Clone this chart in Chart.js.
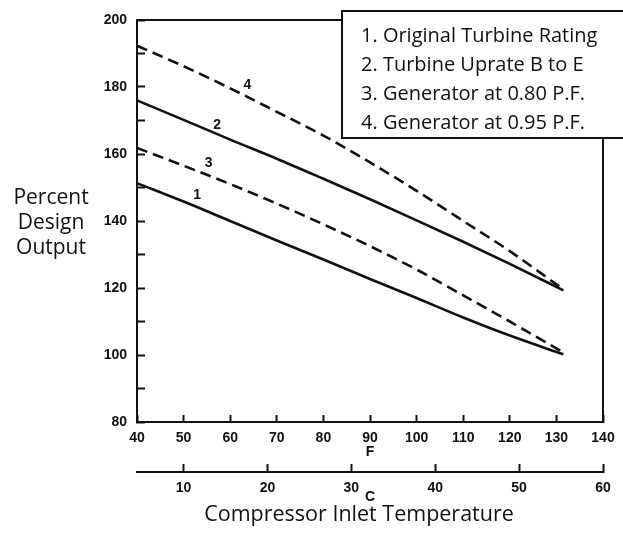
<!DOCTYPE html>
<html><head><meta charset="utf-8">
<script src="https://cdn.jsdelivr.net/npm/chart.js@4"></script>
<style>html,body{margin:0;padding:0;background:#fff}#wrap{width:623px;height:533px}</style>
</head><body><div id="wrap"><canvas id="c" width="623" height="533"></canvas></div>
<script>
// ---- data ----
const fahrenheit = [40, 50, 60, 70, 80, 90, 100, 110, 120, 131.5];
const seriesNames = ['1. Original Turbine Rating', '2. Turbine Uprate B to E', '3. Generator at 0.80 P.F.', '4. Generator at 0.95 P.F.'];
const originalRating = [151.3, 145.8, 140.0, 134.2, 128.5, 122.7, 117.0, 111.2, 105.8, 100.2];
const uprateBtoE     = [176.0, 170.2, 164.3, 158.6, 152.6, 146.5, 140.2, 133.8, 127.2, 119.3];
const gen080PF       = [161.8, 156.5, 151.0, 145.2, 139.0, 132.5, 125.5, 117.8, 110.0, 100.8];
const gen095PF       = [192.3, 186.2, 179.6, 172.6, 165.5, 157.5, 149.0, 140.0, 131.0, 119.6];
const yTickLabels = [80, 100, 120, 140, 160, 180, 200];
const fTickLabels = [40, 50, 60, 70, 80, 90, 100, 110, 120, 130, 140];
const cTickLabels = [10, 20, 30, 40, 50, 60];
const curveNumbers = ['1', '2', '3', '4'];
const curveNumberF = [52.9, 57.2, 55.4, 63.7];
const curveNumberY = [147.8, 168.7, 157.3, 180.6];
const yTitleLines = ['Percent', 'Design', 'Output'];
const xTitle = 'Compressor Inlet Temperature';

const INK = '#111';
const tickFont = {family: 'Liberation Sans', size: 14, weight: 'bold'};
const textFont = "'Open Sans', 'Noto Sans', sans-serif";

function pts(arr) { return fahrenheit.map((f, i) => ({x: f, y: arr[i]})); }
function ds(label, arr, dashed) {
  return {label, data: pts(arr), borderColor: INK, borderWidth: 2.6, pointRadius: 0,
    borderDash: dashed ? [11, 6] : [], cubicInterpolationMode: 'monotone', fill: false};
}
function noOverflow(s) { s.paddingLeft = 0; s.paddingRight = 0; s.paddingTop = 0; s.paddingBottom = 0; }

const decor = {
  id: 'decor',
  afterDraw(chart) {
    const {ctx, chartArea: a, scales} = chart;
    ctx.save();
    // top and right frame
    ctx.strokeStyle = INK; ctx.lineWidth = 2;
    ctx.beginPath();
    ctx.moveTo(a.left, a.top); ctx.lineTo(a.right, a.top); ctx.lineTo(a.right, a.bottom);
    ctx.stroke();
    // curve numbers
    ctx.fillStyle = INK;
    ctx.font = "bold 14px 'Liberation Sans'";
    ctx.textAlign = 'center'; ctx.textBaseline = 'middle';
    curveNumbers.forEach((t, i) => {
      ctx.fillText(t, scales.x.getPixelForValue(curveNumberF[i]), scales.y.getPixelForValue(curveNumberY[i]));
    });
    // y title
    ctx.font = "500 21px " + textFont;
    yTitleLines.forEach((t, i) => ctx.fillText(t, 51, 198 + i * 25));
    // x title (below both temperature scales)
    ctx.font = "500 21.5px " + textFont;
    ctx.fillText(xTitle, 359, 515);
    // legend box
    ctx.fillStyle = '#fff';
    ctx.fillRect(341, 10, 300, 128);
    ctx.strokeStyle = INK; ctx.lineWidth = 2;
    ctx.strokeRect(342, 11, 300, 127);
    ctx.fillStyle = INK;
    ctx.textAlign = 'left';
    ctx.font = "500 20px " + textFont;
    chart.data.datasets.forEach((d, i) => ctx.fillText(d.label, 361, 36 + i * 29));
    ctx.restore();
  }
};

new Chart(document.getElementById('c'), {
  type: 'line',
  data: {datasets: [
    ds(seriesNames[0], originalRating, false),
    ds(seriesNames[1], uprateBtoE, false),
    ds(seriesNames[2], gen080PF, true),
    ds(seriesNames[3], gen095PF, true)
  ]},
  options: {
    responsive: false, animation: false, devicePixelRatio: 1,
    layout: {padding: {left: 0, top: 20, right: 20, bottom: 0}},
    plugins: {legend: {display: false}, tooltip: {enabled: false}, title: {display: false}},
    scales: {
      x: {
        type: 'linear', position: 'bottom', min: 40, max: 140,
        afterBuildTicks: s => { s.ticks = fTickLabels.map(v => ({value: v})); },
        afterFit: s => { s.height = 50; noOverflow(s); },
        border: {display: true, color: INK, width: 2},
        grid: {display: true, drawOnChartArea: false, drawTicks: true, tickLength: -7, tickWidth: 2, tickColor: INK},
        ticks: {color: INK, font: tickFont, padding: 15, autoSkip: false, maxRotation: 0},
        title: {display: true, text: 'F', color: INK, font: tickFont, padding: {top: 0, bottom: 11}}
      },
      c: {
        type: 'linear', position: 'bottom', min: (40 - 32) / 1.8, max: 60,
        afterBuildTicks: s => { s.ticks = cTickLabels.map(v => ({value: v})); },
        afterFit: s => { s.height = 61; noOverflow(s); },
        border: {display: true, color: INK, width: 2},
        grid: {display: true, drawOnChartArea: false, drawTicks: true, tickLength: -8, tickWidth: 2, tickColor: INK},
        ticks: {color: INK, font: tickFont, padding: 16, autoSkip: false, maxRotation: 0},
        title: {display: true, text: 'C', color: INK, font: tickFont, padding: {top: 0, bottom: 27}}
      },
      y: {
        type: 'linear', position: 'left', min: 80, max: 200,
        afterBuildTicks: s => { const t = []; for (let v = 80; v <= 200; v += 10) t.push({value: v}); s.ticks = t; },
        afterFit: s => { s.width = 137; noOverflow(s); },
        border: {display: true, color: INK, width: 2},
        grid: {display: true, drawOnChartArea: false, drawTicks: true, tickLength: -8, tickWidth: 2, tickColor: INK},
        ticks: {color: INK, font: tickFont, padding: 18, autoSkip: false,
          callback: v => yTickLabels.includes(v) ? String(v) : ''}
      }
    }
  },
  plugins: [decor]
});
</script></body></html>
